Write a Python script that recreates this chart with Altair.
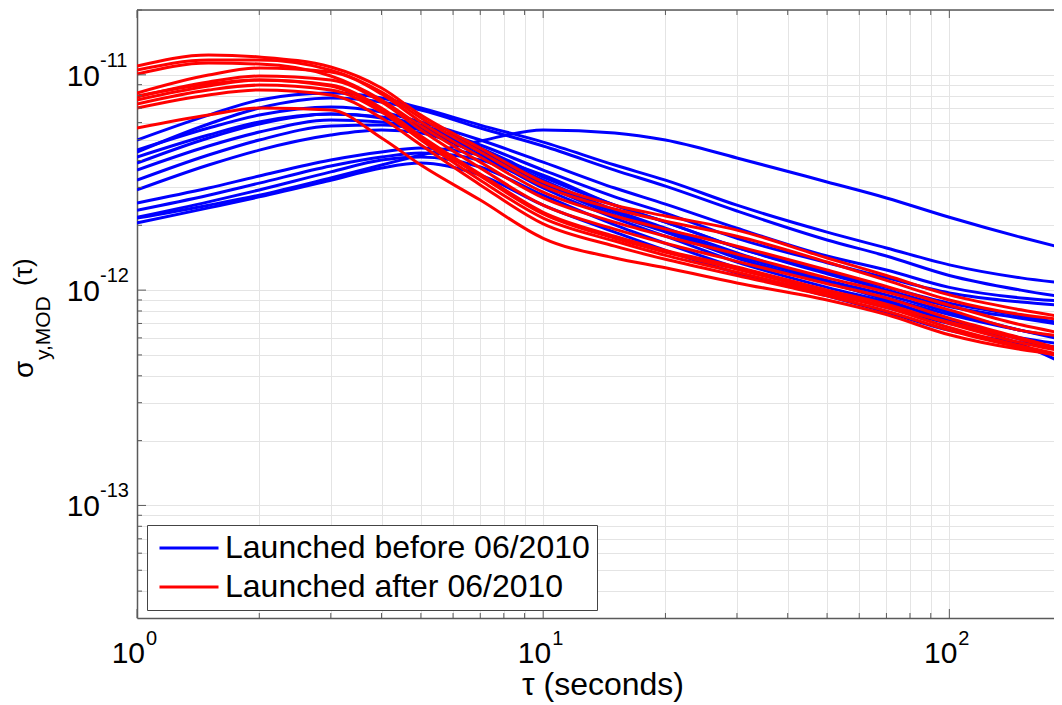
import altair as alt
import pandas as pd

# ---------------- data ----------------
tau = [1, 1.5, 2, 3, 4, 5, 7, 10, 15, 20, 30, 50, 70, 100, 150, 190]

blue_curves = [
    [2.16e-12, 2.48e-12, 2.76e-12, 3.32e-12, 3.81e-12, 4.24e-12, 4.93e-12, 5.54e-12, 5.37e-12, 4.98e-12, 4.11e-12, 3.18e-12, 2.68e-12, 2.18e-12, 1.76e-12, 1.57e-12],
    [4.98e-12, 6.50e-12, 7.64e-12, 8.23e-12, 7.80e-12, 7.01e-12, 5.84e-12, 4.87e-12, 3.81e-12, 3.24e-12, 2.48e-12, 1.86e-12, 1.57e-12, 1.31e-12, 1.14e-12, 1.08e-12],
    [4.38e-12, 5.91e-12, 7.01e-12, 7.80e-12, 7.48e-12, 6.86e-12, 5.66e-12, 4.67e-12, 3.61e-12, 3.04e-12, 2.33e-12, 1.71e-12, 1.44e-12, 1.17e-12, 1.00e-12, 0.93e-12],
    [4.47e-12, 5.66e-12, 6.50e-12, 7.09e-12, 6.72e-12, 6.04e-12, 4.98e-12, 3.93e-12, 2.98e-12, 2.51e-12, 1.94e-12, 1.44e-12, 1.24e-12, 1.03e-12, 0.92e-12, 0.89e-12],
    [3.89e-12, 5.09e-12, 5.91e-12, 6.57e-12, 6.37e-12, 5.84e-12, 4.72e-12, 3.61e-12, 2.71e-12, 2.28e-12, 1.74e-12, 1.34e-12, 1.14e-12, 0.97e-12, 0.88e-12, 0.85e-12],
    [3.61e-12, 4.67e-12, 5.42e-12, 6.16e-12, 6.04e-12, 5.66e-12, 4.57e-12, 3.35e-12, 2.48e-12, 2.07e-12, 1.58e-12, 1.21e-12, 1.03e-12, 0.87e-12, 0.76e-12, 0.70e-12],
    [3.24e-12, 4.24e-12, 4.98e-12, 5.78e-12, 5.84e-12, 5.54e-12, 4.38e-12, 3.14e-12, 2.30e-12, 1.90e-12, 1.45e-12, 1.11e-12, 0.95e-12, 0.79e-12, 0.65e-12, 0.59e-12],
    [2.92e-12, 3.81e-12, 4.47e-12, 5.25e-12, 5.54e-12, 5.37e-12, 4.24e-12, 2.98e-12, 2.16e-12, 1.78e-12, 1.35e-12, 1.03e-12, 0.88e-12, 0.73e-12, 0.59e-12, 0.53e-12],
    [4.15e-12, 5.25e-12, 6.04e-12, 6.57e-12, 6.30e-12, 5.72e-12, 4.47e-12, 3.24e-12, 2.35e-12, 1.94e-12, 1.49e-12, 1.09e-12, 0.90e-12, 0.71e-12, 0.56e-12, 0.46e-12],
    [2.54e-12, 2.98e-12, 3.39e-12, 4.02e-12, 4.38e-12, 4.57e-12, 4.24e-12, 3.42e-12, 2.48e-12, 2.07e-12, 1.58e-12, 1.19e-12, 1.00e-12, 0.84e-12, 0.74e-12, 0.69e-12],
    [2.35e-12, 2.76e-12, 3.14e-12, 3.77e-12, 4.15e-12, 4.33e-12, 4.02e-12, 3.08e-12, 2.23e-12, 1.86e-12, 1.41e-12, 1.08e-12, 0.92e-12, 0.77e-12, 0.65e-12, 0.60e-12],
    [2.18e-12, 2.57e-12, 2.92e-12, 3.54e-12, 4.02e-12, 4.15e-12, 3.73e-12, 2.76e-12, 2.01e-12, 1.65e-12, 1.27e-12, 0.98e-12, 0.83e-12, 0.70e-12, 0.60e-12, 0.56e-12],
    [2.05e-12, 2.41e-12, 2.71e-12, 3.24e-12, 3.69e-12, 3.89e-12, 3.42e-12, 2.48e-12, 1.86e-12, 1.53e-12, 1.20e-12, 0.94e-12, 0.79e-12, 0.65e-12, 0.57e-12, 0.54e-12],
]

red_curves = [
    [10.98e-12, 12.36e-12, 12.10e-12, 10.87e-12, 8.68e-12, 6.50e-12, 4.57e-12, 3.18e-12, 2.48e-12, 2.21e-12, 1.90e-12, 1.41e-12, 1.17e-12, 0.95e-12, 0.81e-12, 0.75e-12],
    [10.52e-12, 11.71e-12, 11.71e-12, 10.52e-12, 8.32e-12, 6.30e-12, 4.38e-12, 3.04e-12, 2.38e-12, 2.09e-12, 1.78e-12, 1.35e-12, 1.11e-12, 0.90e-12, 0.77e-12, 0.73e-12],
    [8.23e-12, 9.97e-12, 10.75e-12, 10.30e-12, 8.14e-12, 6.04e-12, 4.15e-12, 2.85e-12, 2.21e-12, 1.92e-12, 1.60e-12, 1.24e-12, 1.04e-12, 0.85e-12, 0.69e-12, 0.63e-12],
    [10.08e-12, 11.34e-12, 11.22e-12, 9.87e-12, 7.64e-12, 5.78e-12, 3.93e-12, 2.68e-12, 2.07e-12, 1.78e-12, 1.47e-12, 1.14e-12, 0.98e-12, 0.81e-12, 0.65e-12, 0.61e-12],
    [7.89e-12, 9.26e-12, 9.87e-12, 9.46e-12, 7.48e-12, 5.54e-12, 3.69e-12, 2.48e-12, 1.92e-12, 1.65e-12, 1.36e-12, 1.07e-12, 0.92e-12, 0.74e-12, 0.60e-12, 0.53e-12],
    [7.64e-12, 8.87e-12, 9.46e-12, 8.96e-12, 7.01e-12, 5.20e-12, 3.46e-12, 2.30e-12, 1.78e-12, 1.53e-12, 1.28e-12, 1.00e-12, 0.86e-12, 0.70e-12, 0.57e-12, 0.52e-12],
    [7.32e-12, 8.50e-12, 8.96e-12, 8.50e-12, 6.72e-12, 4.98e-12, 3.24e-12, 2.16e-12, 1.69e-12, 1.45e-12, 1.21e-12, 0.96e-12, 0.83e-12, 0.67e-12, 0.55e-12, 0.50e-12],
    [7.01e-12, 8.06e-12, 8.50e-12, 8.06e-12, 6.30e-12, 4.72e-12, 3.08e-12, 2.03e-12, 1.60e-12, 1.39e-12, 1.17e-12, 0.94e-12, 0.80e-12, 0.65e-12, 0.54e-12, 0.49e-12],
    [7.97e-12, 9.06e-12, 9.46e-12, 8.87e-12, 6.86e-12, 5.09e-12, 3.39e-12, 2.26e-12, 1.74e-12, 1.50e-12, 1.25e-12, 0.98e-12, 0.84e-12, 0.71e-12, 0.59e-12, 0.53e-12],
    [5.66e-12, 6.50e-12, 7.01e-12, 6.86e-12, 5.09e-12, 3.81e-12, 2.62e-12, 1.74e-12, 1.41e-12, 1.27e-12, 1.08e-12, 0.90e-12, 0.77e-12, 0.62e-12, 0.53e-12, 0.50e-12],
]

group_names = ["Launched before 06/2010", "Launched after 06/2010"]
group_colors = ["#0000ff", "#ff0000"]

x_major = [1, 10, 100]
x_minor = [2, 3, 4, 5, 6, 7, 8, 9, 20, 30, 40, 50, 60, 70, 80, 90]
x_exponents = ["0", "1", "2"]

y_major = [1e-13, 1e-12, 1e-11]
y_minor = [4e-14, 5e-14, 6e-14, 7e-14, 8e-14, 9e-14,
           2e-13, 3e-13, 4e-13, 5e-13, 6e-13, 7e-13, 8e-13, 9e-13,
           2e-12, 3e-12, 4e-12, 5e-12, 6e-12, 7e-12, 8e-12, 9e-12, 2e-11]
y_exponents = ["-13", "-12", "-11"]

x_title = "τ (seconds)"
y_title_main = "σ"
y_title_sub = "y,MOD"
y_title_arg = "(τ)"

# ---------------- tables ----------------
def long_table(curves, group, prefix):
    rows = []
    for i, c in enumerate(curves):
        for t, v in zip(tau, c):
            rows.append({"tau": t, "sigma": v, "series": f"{prefix}{i}", "group": group})
    return pd.DataFrame(rows)

blue_df = long_table(blue_curves, group_names[0], "b")
red_df = long_table(red_curves, group_names[1], "r")

W, H = 917, 608
FONT = "Liberation Sans"
AX = "#5a5a5a"
GRID = "#e4e4e4"

xscale = alt.Scale(type="log", domain=[1, 181], nice=False)
yscale = alt.Scale(type="log", domain=[3e-14, 2e-11], nice=False)

x_axis = alt.Axis(values=x_major + x_minor, grid=True, gridColor=GRID, gridWidth=1,
                  labels=False, ticks=False, domain=True, domainColor=AX,
                  domainWidth=1.5, title=None)
y_axis = alt.Axis(values=y_major + y_minor, grid=True, gridColor=GRID, gridWidth=1,
                  labels=False, ticks=False, domain=True, domainColor=AX,
                  domainWidth=1.5, title=None)

color_scale = alt.Scale(domain=group_names, range=group_colors)
legend = alt.Legend(orient="none", legendX=10, legendY=515, title=None,
                    symbolType="M-3,0H3", symbolSize=387, symbolStrokeWidth=3,
                    symbolOffset=19, labelOffset=20,
                    labelFontSize=32, labelFont=FONT, labelColor="black",
                    strokeColor="#444444", fillColor="white", padding=7,
                    rowPadding=7, labelLimit=0, cornerRadius=0)


def lines(df):
    return alt.Chart(df).mark_line(strokeWidth=3, interpolate="monotone", clip=True).encode(
        x=alt.X("tau:Q", scale=xscale, axis=x_axis),
        y=alt.Y("sigma:Q", scale=yscale, axis=y_axis),
        color=alt.Color("group:N", scale=color_scale, legend=legend),
        detail="series:N",
    )


blue_layer = lines(blue_df)
red_layer = lines(red_df)

# inward tick marks
xmaj_df = pd.DataFrame({"v": x_major, "e": x_exponents})
xmin_df = pd.DataFrame({"v": x_minor})
ymaj_df = pd.DataFrame({"v": y_major, "e": y_exponents})
ymin_df = pd.DataFrame({"v": y_minor})


def xticks(df, y0, y1):
    return alt.Chart(df).mark_rule(color=AX, strokeWidth=1).encode(
        x=alt.X("v:Q", scale=xscale, axis=x_axis), y=alt.value(y0), y2=alt.value(y1))


def yticks(df, x0, x1):
    return alt.Chart(df).mark_rule(color=AX, strokeWidth=1).encode(
        y=alt.Y("v:Q", scale=yscale, axis=y_axis), x=alt.value(x0), x2=alt.value(x1))


tick_layers = [
    xticks(xmaj_df, H, H - 9), xticks(xmin_df, H, H - 5),
    xticks(xmaj_df, 0, 8), xticks(xmin_df, 0, 5),
    yticks(ymaj_df, 0, 9), yticks(ymin_df, 0, 5),
]

top_border = alt.Chart(pd.DataFrame({"a": [0]})).mark_rule(color=AX, strokeWidth=1.5).encode(
    x=alt.value(0), x2=alt.value(W), y=alt.value(0))

# tick labels 10^n
x_lab_base = alt.Chart(xmaj_df).mark_text(align="right", baseline="alphabetic", dx=8,
                                          fontSize=30, font=FONT, color="black").encode(
    x=alt.X("v:Q", scale=xscale, axis=x_axis), y=alt.value(653), text=alt.value("10"))
x_lab_exp = alt.Chart(xmaj_df).mark_text(align="left", baseline="alphabetic", dx=9,
                                         fontSize=20, font=FONT, color="black").encode(
    x=alt.X("v:Q", scale=xscale, axis=x_axis), y=alt.value(635), text="e:N")
y_lab_base = alt.Chart(ymaj_df).mark_text(align="right", baseline="alphabetic", dy=11,
                                          fontSize=30, font=FONT, color="black").encode(
    y=alt.Y("v:Q", scale=yscale, axis=y_axis), x=alt.value(-37), text=alt.value("10"))
y_lab_exp = alt.Chart(ymaj_df).mark_text(align="left", baseline="alphabetic", dy=-8,
                                         fontSize=20, font=FONT, color="black").encode(
    y=alt.Y("v:Q", scale=yscale, axis=y_axis), x=alt.value(-37), text="e:N")

# axis titles
xt = alt.Chart(pd.DataFrame({"t": [x_title]})).mark_text(
    align="center", baseline="alphabetic", fontSize=32, font=FONT, color="black").encode(
    x=alt.value(466), y=alt.value(685), text="t:N")
yt1 = alt.Chart(pd.DataFrame({"t": [y_title_main]})).mark_text(
    align="left", baseline="alphabetic", angle=270, fontSize=28, font=FONT, color="black").encode(
    x=alt.value(-104), y=alt.value(368), text="t:N")
yt2 = alt.Chart(pd.DataFrame({"t": [y_title_sub]})).mark_text(
    align="left", baseline="alphabetic", angle=270, fontSize=21, font=FONT, color="black").encode(
    x=alt.value(-87), y=alt.value(350), text="t:N")
yt3 = alt.Chart(pd.DataFrame({"t": [y_title_arg]})).mark_text(
    align="left", baseline="alphabetic", angle=270, fontSize=26, font=FONT, color="black").encode(
    x=alt.value(-105), y=alt.value(276), text="t:N")

chart = alt.layer(
    blue_layer, red_layer, *tick_layers, top_border,
    x_lab_base, x_lab_exp, y_lab_base, y_lab_exp, xt, yt1, yt2, yt3,
).properties(
    width=W, height=H,
    autosize=alt.AutoSizeParams(type="none"),
    padding={"left": 129, "top": 2, "right": 0, "bottom": 85},
).configure_view(stroke=None).configure(background="white")

chart.save("out.html", embed_options={"renderer": "svg", "actions": False})
